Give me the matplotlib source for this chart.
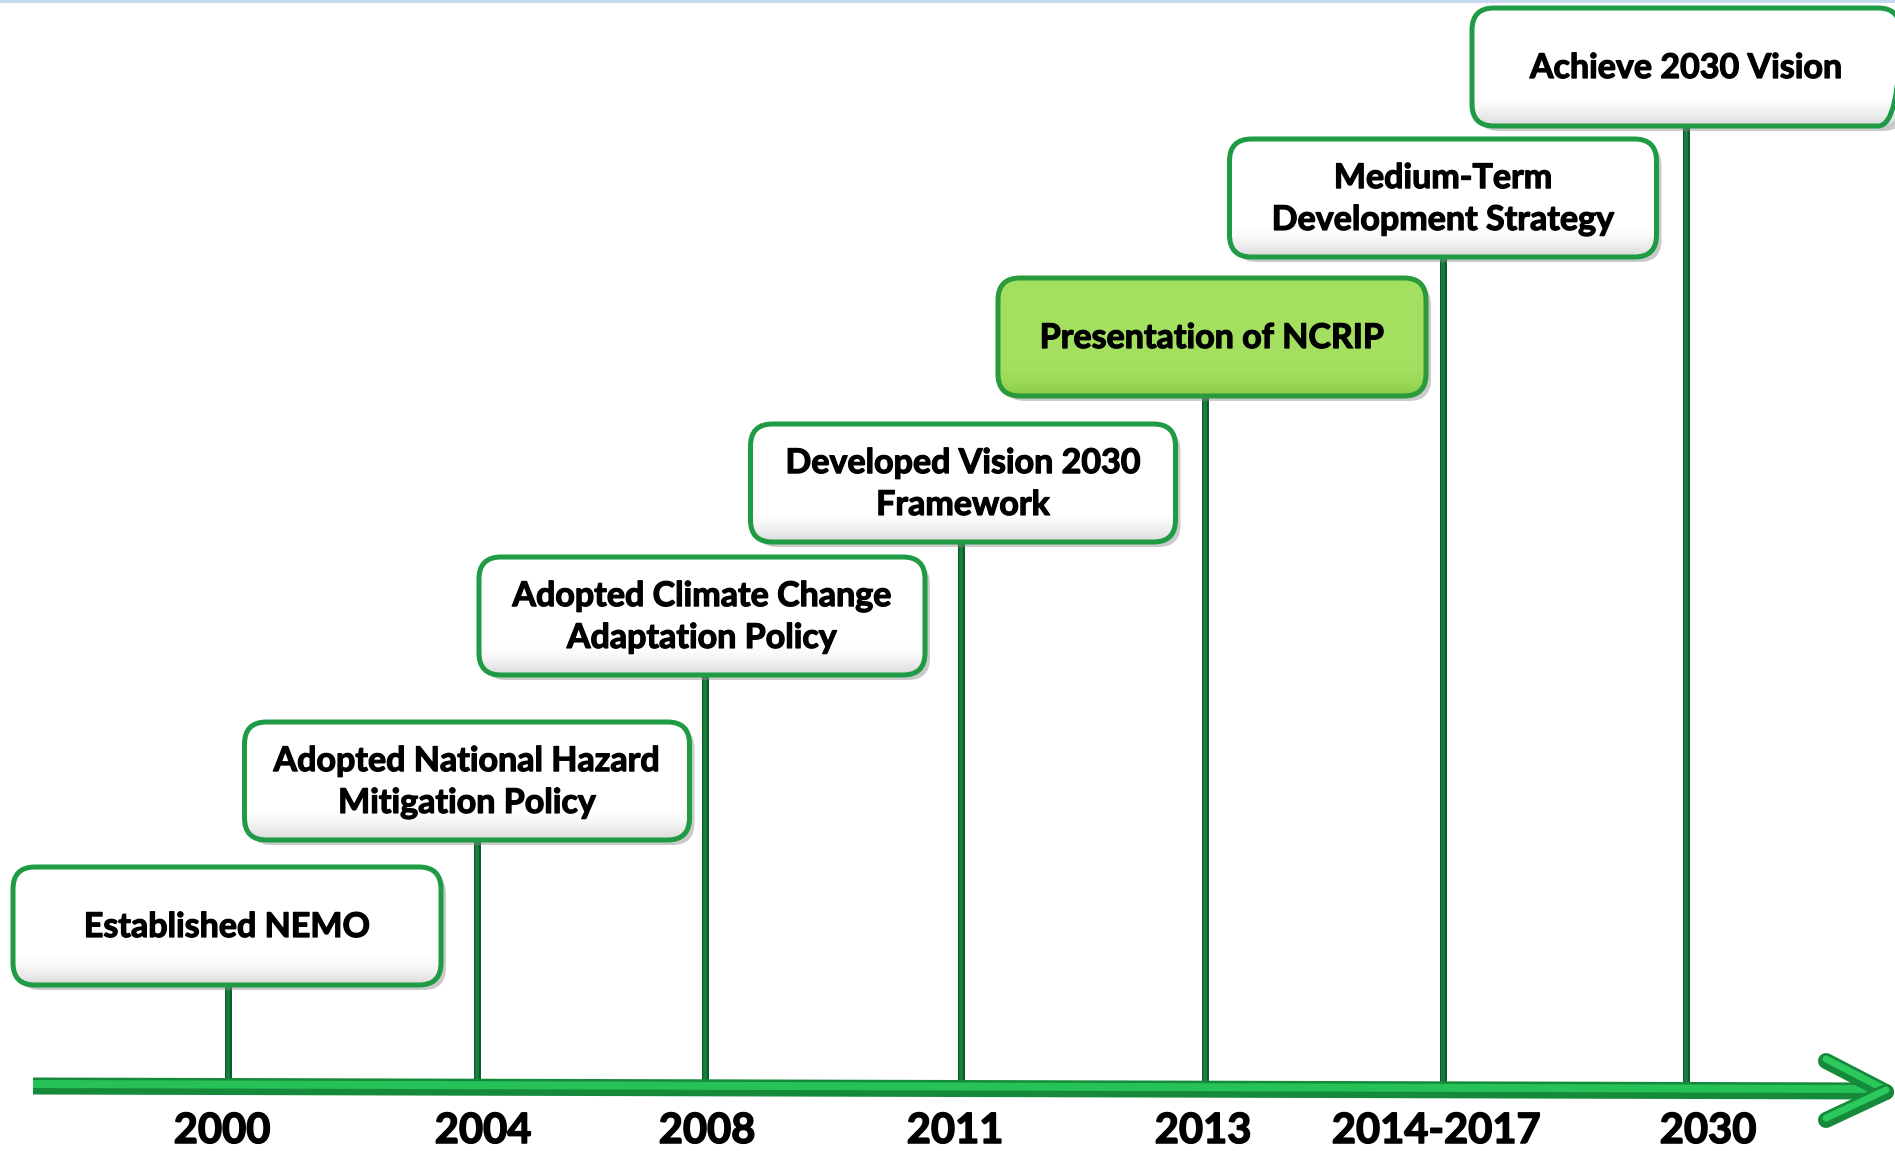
import matplotlib
matplotlib.use("Agg")
import numpy as np
import matplotlib.pyplot as plt
import matplotlib.patheffects as pe
from matplotlib.patches import FancyBboxPatch

# data: timeline events
years = ['2000', '2004', '2008', '2011', '2013', '2014-2017', '2030']
events = ['Established NEMO',
          'Adopted National Hazard\nMitigation Policy',
          'Adopted Climate Change\nAdaptation Policy',
          'Developed Vision 2030\nFramework',
          'Presentation of NCRIP',
          'Medium-Term\nDevelopment Strategy',
          'Achieve 2030 Vision']
highlight = 4   # the green box

# layout (pixels, y grows downward)
stem_x = [228, 477, 705, 961, 1205, 1443, 1686]
box_cx = [227, 467, 702, 963, 1212, 1443, 1686]
box_w = [428, 445, 446, 425, 428, 427, 428]
box_top = [867, 722, 557, 424, 278, 139, 8]
box_h = 118
year_x = [222, 483, 707, 955, 1203, 1436, 1708]
axis_y0, axis_y1 = 1086, 1091

W, H = 1895, 1151
plt.rcParams['font.family'] = ['Lato', 'DejaVu Sans']

fig = plt.figure(figsize=(W / 100, H / 100), dpi=100)
ax = fig.add_axes([0, 0, 1, 1])
ax.set_xlim(0, W)
ax.set_ylim(H, 0)
ax.axis('off')

px = 72 / 100  # points per pixel
thick = [pe.withStroke(linewidth=0.9, foreground='black')]

# thin light blue line at the very top
ax.plot([0, W], [1, 1], color='#c6d9f0', lw=3 * px, zorder=0)

# stems
for i in range(len(events)):
    ax.plot([stem_x[i], stem_x[i]], [box_top[i] + box_h, axis_y0],
            color='#0d5c2c', lw=7 * px, solid_capstyle='butt', zorder=1)
    ax.plot([stem_x[i], stem_x[i]], [box_top[i] + box_h, axis_y0],
            color='#17803c', lw=3.5 * px, solid_capstyle='butt', zorder=1)

# axis line with arrow head
ax.plot([33, 1880], [axis_y0, axis_y1], color='#158a3a', lw=17 * px,
        solid_capstyle='butt', zorder=2)
ax.plot([33, 1880], [axis_y0 - 2, axis_y1 - 2], color='#27c257', lw=8 * px,
        solid_capstyle='butt', zorder=2)
tip = (1886, 1092)
for arm in [(1826, 1061), (1826, 1120)]:
    ax.plot([arm[0], tip[0]], [arm[1], tip[1]], color='#158a3a', lw=16 * px,
            solid_capstyle='round', zorder=3)
    ax.plot([arm[0], tip[0]], [arm[1] - 2, tip[1] - 2], color='#2bc85b', lw=7 * px,
            solid_capstyle='round', zorder=3)

# boxes
r = 22
for i, txt in enumerate(events):
    x0 = box_cx[i] - box_w[i] / 2
    y0 = box_top[i]
    w, h = box_w[i], box_h
    # shadow
    sh = FancyBboxPatch((x0 + r + 5, y0 + r + 5), w - 2 * r, h - 2 * r,
                        boxstyle=f"round,pad={r},rounding_size={r}",
                        fc='#8a8a8a', ec='none', alpha=0.45, zorder=4)
    ax.add_patch(sh)
    if i == highlight:
        top_c, bot_c, edge = np.array([164, 224, 96]), np.array([138, 204, 70]), '#2a9a3c'
    else:
        top_c, bot_c, edge = np.array([255, 255, 255]), np.array([218, 218, 218]), '#1f9a45'
    box = FancyBboxPatch((x0 + r, y0 + r), w - 2 * r, h - 2 * r,
                         boxstyle=f"round,pad={r},rounding_size={r}",
                         fc='none', ec=edge, lw=5 * px, zorder=6)
    ax.add_patch(box)
    # vertical gradient fill clipped to the box
    t = np.linspace(0, 1, 100)
    k = np.clip((t - 0.75) / 0.25, 0, 1)[:, None] ** 1.5
    grad = (top_c[None, :] * (1 - k) + bot_c[None, :] * k) / 255
    img = ax.imshow(grad[:, None, :], extent=(x0, x0 + w, y0 + h, y0),
                    aspect='auto', zorder=5, interpolation='bilinear')
    img.set_clip_path(box)
    ax.text(box_cx[i], y0 + h / 2 + 1, txt, ha='center', va='center',
            fontsize=24.5, fontweight='bold', color='black',
            linespacing=1.38, zorder=7, path_effects=thick)

# year labels
for i, y in enumerate(years):
    ax.text(year_x[i], 1143, y, ha='center', va='baseline',
            fontsize=30, fontweight='bold', color='black', zorder=7,
            path_effects=[pe.withStroke(linewidth=1.1, foreground='black')])

fig.savefig('out.png', dpi=100)
